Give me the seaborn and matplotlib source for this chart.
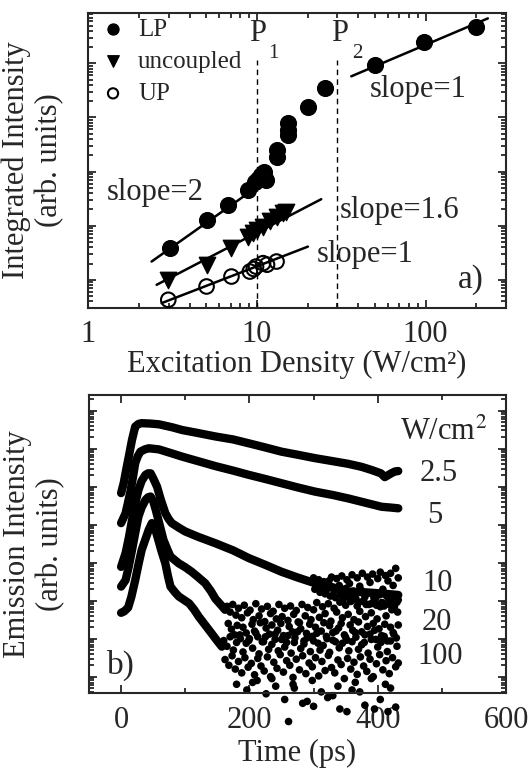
import numpy as np
import seaborn as sns
import matplotlib

matplotlib.use("Agg", force=True)
import matplotlib.pyplot as plt
from matplotlib.ticker import NullFormatter, FixedLocator, LogLocator

# ---- panel a: integrated intensity vs excitation density (log10 of arb. units)
lp_density = [3.05, 5.04, 6.76, 8.88, 9.73, 10.2, 10.6, 11.1, 11.3, 13.1, 13.1, 15.3, 15.3, 15.3, 20.1, 25.2, 49.9, 98.6, 199]
lp_logint = [0.585, 1.107, 1.384, 1.66, 1.81, 1.86, 1.93, 2.0, 1.85, 2.27, 2.40, 2.68, 2.77, 2.89, 3.20, 3.54, 3.97, 4.40, 4.67]

unc_density = [2.99, 5.04, 7.08, 8.88, 9.5, 10.1, 10.9, 11.9, 13.1, 14.3, 15.0]
unc_logint = [0.0, 0.277, 0.585, 0.80, 0.86, 0.92, 0.98, 1.08, 1.17, 1.23, 1.26]

up_density = [2.99, 5.04, 7.08, 9.1, 9.6, 9.9, 10.9, 11.5, 13.1]
up_logint = [-0.369, -0.123, 0.061, 0.153, 0.20, 0.245, 0.308, 0.28, 0.338]

# fitted power laws (end points)
fit_lp2_x, fit_lp2_y = [2.38, 9.46], [0.338, 1.66]
fit_unc_x, fit_unc_y = [2.55, 24.1], [-0.092, 1.49]
fit_up_x, fit_up_y = [2.73, 20.1], [-0.43, 0.614]
fit_lp1_x, fit_lp1_y = [36.3, 234], [3.76, 4.83]

thresholds = [10, 30]

# ---- panel b: time resolved emission (log10 of arb. units)
t_25 = [0, 4, 8, 12, 17, 22, 27, 32, 45, 59, 80, 95, 120, 147, 175, 199, 225, 250, 275, 302, 330, 354, 375, 390, 405, 411, 416, 421, 427, 432]
l_25 = [4.83, 5.09, 5.45, 5.79, 6.23, 6.58, 6.65, 6.67, 6.66, 6.64, 6.56, 6.49, 6.41, 6.32, 6.24, 6.14, 6.03, 5.92, 5.84, 5.75, 5.67, 5.60, 5.52, 5.44, 5.35, 5.25, 5.30, 5.35, 5.40, 5.41]

t_5 = [0, 7, 11, 15, 19, 22, 26, 30, 37, 43, 59, 80, 95, 120, 147, 175, 199, 225, 250, 275, 302, 330, 354, 380, 406, 420, 432]
l_5 = [4.04, 4.30, 4.60, 4.91, 5.30, 5.62, 5.80, 5.92, 5.98, 6.01, 5.98, 5.87, 5.79, 5.67, 5.54, 5.42, 5.31, 5.20, 5.09, 4.98, 4.87, 4.78, 4.69, 4.58, 4.47, 4.45, 4.43]

t_10 = [0, 7, 12, 17, 22, 27, 32, 38, 42, 46, 50, 56, 62, 69, 74, 79, 90, 100, 120, 147, 175, 199, 225, 250, 275, 302, 330, 354, 380, 406, 432]
l_10 = [2.89, 3.25, 3.65, 4.12, 4.55, 4.91, 5.15, 5.31, 5.35, 5.35, 5.22, 5.00, 4.65, 4.30, 4.15, 4.04, 3.92, 3.82, 3.68, 3.51, 3.32, 3.12, 2.94, 2.76, 2.61, 2.46, 2.35, 2.24, 2.22, 2.19, 2.15]
tail10_t = [300, 304, 308, 312, 316, 320, 324, 328, 332, 336, 340, 344, 348, 352, 356, 360, 364, 368, 372, 376, 380, 384, 388, 392, 396, 400, 404, 408, 412, 416, 420, 424, 428, 432,
            302, 306, 310, 314, 318, 322, 326, 330, 334, 338, 342, 346, 350, 354, 358, 362, 366, 370, 374, 378, 382, 386, 390, 394, 398, 402, 406, 410, 414, 418, 422, 426, 430, 432]
tail10_l = [2.60, 2.35, 2.55, 2.30, 2.50, 2.28, 2.52, 2.62, 2.25, 2.58, 2.40, 2.65, 2.20, 2.55, 2.45, 2.68, 2.15, 2.60, 2.38, 2.72, 2.10, 2.62, 2.48, 2.70, 2.05, 2.58, 2.75, 2.30, 2.66, 2.52, 2.72, 2.40, 2.85, 2.60,
            2.30, 2.45, 2.22, 2.40, 2.18, 2.42, 2.12, 2.35, 2.08, 2.30, 2.15, 2.02, 2.32, 2.10, 1.98, 2.25, 2.05, 1.95, 2.28, 2.00, 1.90, 2.20, 1.92, 2.08, 1.88, 2.15, 1.95, 1.86, 2.12, 1.90, 2.05, 1.84, 1.96, 2.02]

t_20 = [0, 7, 12, 17, 22, 27, 32, 38, 42, 46, 50, 54, 60, 66, 72, 77, 90, 100, 110, 120, 131, 140, 147, 155, 162]
l_20 = [2.37, 2.54, 2.90, 3.33, 3.78, 4.21, 4.45, 4.65, 4.72, 4.74, 4.62, 4.39, 4.00, 3.60, 3.35, 3.16, 2.98, 2.88, 2.76, 2.62, 2.46, 2.25, 2.05, 1.90, 1.76]
tail20_t = [165, 170, 174, 179, 183, 188, 192, 197, 201, 206, 210, 215, 219, 224, 228, 233, 237, 242, 246, 251, 255, 260, 264, 269, 273, 278, 282, 287, 291, 296,
            300, 305, 309, 314, 318, 323, 327, 332, 336, 341, 345, 350, 354, 359, 363, 368, 372, 377, 381, 386, 390, 395, 399, 404, 408, 413, 417, 422, 426, 431,
            167, 172, 177, 181, 186, 190, 195, 199, 204, 208, 213, 217, 222, 226, 231, 235, 240, 244, 249, 253, 258, 262, 267, 271, 276, 280, 285, 289, 294, 298,
            303, 307, 312, 316, 321, 325, 330, 334, 339, 343, 348, 352, 357, 361, 366, 370, 375, 379, 384, 388, 393, 397, 402, 406, 411, 415, 420, 424, 429, 432]
tail20_l = [1.85, 1.70, 1.90, 1.62, 1.80, 1.55, 1.88, 1.68, 1.75, 1.50, 1.92, 1.60, 1.78, 1.45, 1.85, 1.66, 1.72, 1.52, 1.90, 1.58, 1.80, 1.48, 1.86, 1.64, 1.74, 1.42, 1.90, 1.60, 1.82, 1.50,
            1.76, 1.95, 1.56, 1.84, 1.66, 1.92, 1.46, 1.80, 1.70, 1.96, 1.55, 1.88, 1.64, 2.00, 1.50, 1.86, 1.72, 1.98, 1.58, 1.90, 1.68, 2.02, 1.52, 1.84, 1.94, 1.60, 2.05, 1.76, 1.88, 1.70,
            1.40, 1.25, 1.10, 1.35, 1.00, 1.30, 1.15, 0.95, 1.38, 1.20, 1.05, 1.42, 0.92, 1.28, 1.12, 1.36, 0.98, 1.22, 1.40, 1.08, 0.90, 1.32, 1.18, 1.02, 1.44, 1.26, 0.94, 1.14, 1.38, 1.06,
            1.30, 0.88, 1.20, 1.42, 1.00, 1.34, 1.16, 0.92, 1.28, 1.40, 1.10, 0.96, 1.36, 1.22, 1.04, 1.44, 1.18, 0.90, 1.32, 1.12, 1.40, 0.98, 1.26, 1.08, 1.38, 0.94, 1.30, 1.16, 1.02, 1.36]

t_100 = [0, 5, 11, 16, 22, 27, 32, 38, 43, 48, 52, 58, 63, 69, 73, 77, 84, 90, 98, 106, 114, 121, 131, 141, 149, 157]
l_100 = [1.68, 1.72, 1.82, 2.10, 2.54, 2.95, 3.33, 3.62, 3.86, 4.04, 3.95, 3.60, 3.30, 2.98, 2.65, 2.37, 2.22, 2.11, 2.02, 1.93, 1.76, 1.58, 1.36, 1.14, 0.96, 0.79]
tail100_t = [160, 165, 170, 175, 180, 185, 190, 195, 200, 205, 210, 215, 220, 225, 230, 235, 240, 245, 250, 255, 260, 265, 270, 275, 280, 285, 290,
             295, 300, 305, 310, 315, 320, 325, 330, 335, 340, 345, 350, 355, 360, 365, 370, 375, 380, 385, 390, 395, 400, 405, 410, 415, 420, 425, 430,
             162, 168, 173, 178, 183, 188, 193, 198, 203, 208, 213, 218, 223, 228, 233, 238, 243, 248, 253, 258, 263, 268, 273, 278, 283, 288, 293,
             298, 303, 308, 313, 318, 323, 328, 333, 338, 343, 348, 353, 358, 363, 368, 373, 378, 383, 388, 393, 398, 403, 408, 413, 418, 423, 428, 432,
             180, 196, 212, 226, 241, 255, 261, 270, 283, 290, 300, 312, 322, 330, 341, 352, 360, 372, 380, 395, 404, 416, 420, 428,
             205, 235, 268, 298, 338, 365, 390, 412]
tail100_l = [0.95, 0.80, 1.05, 0.70, 0.90, 1.10, 0.65, 0.88, 1.00, 0.75, 1.15, 0.60, 0.92, 1.05, 0.72, 0.85, 1.12, 0.68, 0.98, 0.78, 1.08, 0.62, 0.90, 1.18, 0.74, 0.86, 1.02,
             0.66, 0.94, 1.14, 0.70, 0.82, 1.06, 0.64, 0.96, 1.20, 0.76, 0.88, 1.04, 0.68, 0.92, 1.16, 0.72, 0.84, 1.10, 0.62, 0.98, 1.22, 0.78, 0.90, 1.06, 0.66, 0.94, 1.12, 0.80,
             0.45, 0.30, 0.55, 0.20, 0.40, 0.10, 0.50, 0.25, 0.35, 0.05, 0.48, 0.28, 0.15, 0.52, 0.00, 0.38, 0.22, 0.58, 0.12, 0.42, 0.30, -0.02, 0.46, 0.18, 0.55, 0.08, 0.36,
             0.26, 0.50, 0.02, 0.40, 0.16, 0.56, 0.24, 0.10, 0.44, 0.32, -0.05, 0.48, 0.20, 0.38, 0.06, 0.52, 0.28, 0.14, 0.46, 0.00, 0.34, 0.58, 0.18, 0.42, 0.08, 0.50, 0.26, 0.36,
             -0.20, -0.35, -0.10, -0.45, -0.25, -0.60, -1.18, -0.30, -0.70, -0.65, -0.78, -0.40, -0.55, -0.50, -0.85, -0.92, -0.35, -0.40, -0.75, -0.85, -0.60, -0.92, -0.30, -0.80,
             -0.15, -0.05, -0.20, -0.10, -0.25, -0.15, -0.05, -0.20]

power_labels = ["2.5", "5", "10", "20", "100"]


def lin(v):
    return 10 ** np.asarray(v, dtype=float)


sns.set_style("ticks")
plt.rcParams["font.family"] = ["Liberation Serif", "DejaVu Serif"]
plt.rcParams["mathtext.fontset"] = "stix"
plt.rcParams["axes.linewidth"] = 1.5
FS = 22

fig = plt.figure(figsize=(5.28, 7.69), dpi=100)
ax1 = fig.add_axes([0.1667, 0.5995, 0.7917, 0.3836])
ax2 = fig.add_axes([0.1686, 0.0988, 0.7898, 0.3875])

# ---------------- panel a
ax1.set_xscale("log")
ax1.set_yscale("log")
for fx, fy in [(fit_lp2_x, fit_lp2_y), (fit_unc_x, fit_unc_y), (fit_up_x, fit_up_y), (fit_lp1_x, fit_lp1_y)]:
    sns.lineplot(x=fx, y=lin(fy), color="black", lw=1.8, ax=ax1)

sns.scatterplot(x=lp_density, y=lin(lp_logint), marker="o", s=130, color="black",
                edgecolor="black", label="LP", ax=ax1, zorder=3)
sns.scatterplot(x=unc_density, y=lin(unc_logint), marker="v", s=140, color="black",
                edgecolor="black", label="uncoupled", ax=ax1, zorder=3)
sns.scatterplot(x=up_density, y=lin(up_logint), marker="o", s=110, color="black",
                facecolors="none", edgecolor="black", linewidth=1.5, label="UP", ax=ax1, zorder=3,
                clip_on=False)

for xv in thresholds:
    ax1.axvline(xv, ymax=0.84, color="black", lw=1, ls=(0, (4, 3)))

ax1.set_xlim(1, 300)
ax1.set_ylim(10 ** -0.52, 10 ** 4.93)
ax1.set_xticks([1, 10, 100], labels=["1", "10", "100"])
ax1.xaxis.set_minor_formatter(NullFormatter())
ax1.set_xlabel("Excitation Density (W/cm²)", fontsize=FS, labelpad=0)
ax1.set_ylabel("Integrated Intensity\n(arb. units)", fontsize=FS, labelpad=8)

leg = ax1.legend(loc="upper left", bbox_to_anchor=(0.0, 1.024), frameon=False, fontsize=18,
                 markerscale=0.7, handlelength=1.0, handletextpad=0.5, labelspacing=0.38,
                 borderaxespad=0.1)

kw = dict(transform=ax1.transAxes, fontsize=FS, va="center")
ax1.text(0.045, 0.39, "slope=2", **kw)
ax1.text(0.603, 0.332, "slope=1.6", **kw)
ax1.text(0.548, 0.18, "slope=1", **kw)
ax1.text(0.675, 0.739, "slope=1", **kw)
ax1.text(0.885, 0.095, "a)", transform=ax1.transAxes, fontsize=24, va="center")
ax1.text(0.385, 0.929, "P", **kw)
ax1.text(0.431, 0.864, "1", transform=ax1.transAxes, fontsize=15, va="center")
ax1.text(0.581, 0.929, "P", **kw)
ax1.text(0.631, 0.864, "2", transform=ax1.transAxes, fontsize=15, va="center")

# ---------------- panel b
ax2.set_yscale("log")
curves = [(t_25, l_25), (t_5, l_5), (t_10, l_10), (t_20, l_20), (t_100, l_100)]
for tt, ll in curves:
    sns.lineplot(x=tt, y=lin(ll), sort=False, estimator=None, color="black", lw=6,
                 solid_capstyle="round", solid_joinstyle="round", ax=ax2)
for tt, ll in [(tail10_t, tail10_l), (tail20_t, tail20_l), (tail100_t, tail100_l)]:
    sns.scatterplot(x=tt, y=lin(ll), s=30, color="black", edgecolor="none", ax=ax2, clip_on=False)

ax2.set_xlim(-50, 600)
ax2.set_ylim(10 ** -0.43, 10 ** 7.41)
ax2.set_xticks([0, 200, 400, 600])
ax2.xaxis.set_minor_locator(FixedLocator([100, 300, 500]))
ax2.set_xlabel("Time (ps)", fontsize=FS, labelpad=3)
ax2.set_ylabel("Emission Intensity\n(arb. units)", fontsize=FS, labelpad=8)

kw2 = dict(transform=ax2.transAxes, fontsize=FS, va="center", ha="center")
ax2.text(0.746, 0.876, "W/cm$^2$", transform=ax2.transAxes, fontsize=FS, va="center", ha="left")
for lab, (xf, yf) in zip(power_labels, [(0.839, 0.738), (0.83, 0.597), (0.835, 0.369),
                                        (0.835, 0.235), (0.842, 0.121)]):
    ax2.text(xf, yf, lab, **kw2)
ax2.text(0.043, 0.094, "b)", transform=ax2.transAxes, fontsize=24, va="center")

for ax in (ax1, ax2):
    ax.yaxis.set_major_locator(LogLocator(base=10, numticks=30))
    ax.yaxis.set_minor_locator(LogLocator(base=10, subs=np.arange(2, 10) * 1.0, numticks=30))
    ax.yaxis.set_major_formatter(NullFormatter())
    ax.yaxis.set_minor_formatter(NullFormatter())
    ax.tick_params(which="both", direction="in", top=True, right=True, width=1.3,
                   labelsize=FS, pad=9)
    ax.tick_params(which="major", length=6)
    ax.tick_params(which="minor", length=3.5)
    for sp in ax.spines.values():
        sp.set_visible(True)

fig.savefig("out.png", dpi=100)
